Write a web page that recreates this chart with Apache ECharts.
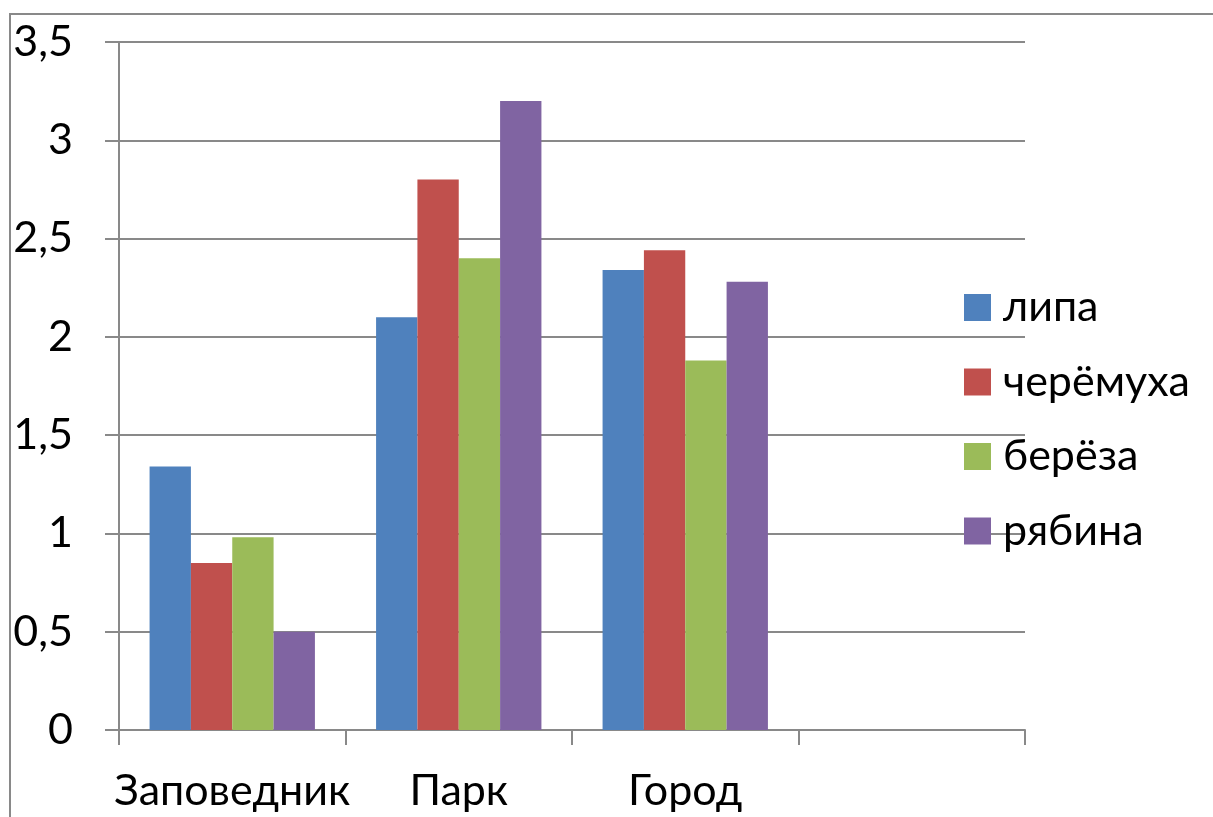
<!DOCTYPE html>
<html>
<head>
<meta charset="utf-8">
<script src="https://cdn.jsdelivr.net/npm/echarts@6/dist/echarts.min.js"></script>
<style>
html, body { margin: 0; padding: 0; background: #fff; }
#chart { width: 1213px; height: 817px; }
</style>
</head>
<body>
<div id="chart"></div>
<script>
// данные
var places = ['Заповедник', 'Парк', 'Город', ''];
var lipa = [1.34, 2.1, 2.34, null];
var cheremukha = [0.85, 2.8, 2.44, null];
var bereza = [0.98, 2.4, 1.88, null];
var ryabina = [0.5, 3.2, 2.28, null];
var seriesNames = ['липа', 'черёмуха', 'берёза', 'рябина'];
var colors = ['#4F81BD', '#C0504D', '#9BBB59', '#8064A2'];

var font = 'Lato, "Open Sans", sans-serif';
var lineColor = '#898989';

var myChart = echarts.init(document.getElementById('chart'));
var allData = [lipa, cheremukha, bereza, ryabina];
var series = [];
for (var i = 0; i < seriesNames.length; i++) {
    series.push({
        name: seriesNames[i],
        type: 'bar',
        barGap: '0%',
        barCategoryGap: '27%',
        itemStyle: { color: colors[i] },
        data: allData[i]
    });
}

option = {
    animation: false,
    color: colors,
    textStyle: { fontFamily: font },
    graphic: [
        {
            type: 'rect',
            shape: { x: 10, y: 14, width: 1400, height: 1000 },
            style: { fill: 'none', stroke: lineColor, lineWidth: 2 },
            z: -10
        }
    ],
    grid: {
        left: 119,
        right: 188,
        top: 42,
        bottom: 87
    },
    legend: {
        orient: 'vertical',
        left: 964,
        top: 286,
        padding: 0,
        itemWidth: 27,
        itemHeight: 27,
        itemGap: 31.5,
        icon: 'rect',
        data: seriesNames,
        textStyle: {
            fontFamily: font,
            fontSize: 43,
            lineHeight: 43,
            color: '#000',
            padding: [0, 0, 0, 7]
        }
    },
    xAxis: {
        type: 'category',
        data: places,
        axisLine: { lineStyle: { color: lineColor, width: 2 } },
        axisTick: { show: true, interval: 0, length: 15, lineStyle: { color: lineColor, width: 2 } },
        axisLabel: {
            fontFamily: font,
            fontSize: 43,
            color: '#000',
            margin: 40,
            interval: 0
        }
    },
    yAxis: {
        type: 'value',
        min: 0,
        max: 3.5,
        interval: 0.5,
        axisLine: { show: true, lineStyle: { color: lineColor, width: 2 } },
        axisTick: { show: true, length: 14, lineStyle: { color: lineColor, width: 2 } },
        splitLine: { lineStyle: { color: lineColor, width: 2 } },
        axisLabel: {
            fontFamily: font,
            fontSize: 43,
            color: '#000',
            margin: 46,
            formatter: function (v) { return String(v).replace('.', ','); }
        }
    },
    series: series
};
myChart.setOption(option);
</script>
</body>
</html>
